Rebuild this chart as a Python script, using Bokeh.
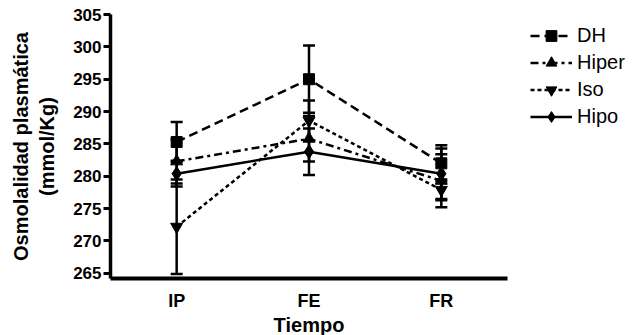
from bokeh.plotting import figure
from bokeh.models import (Range1d, FixedTicker, Whisker, TeeHead, ColumnDataSource,
                          Legend, LegendItem)
from bokeh.embed import file_html
from bokeh.resources import INLINE

# Time points and plasma osmolality (mean and SEM) per group
categories = ["IP", "FE", "FR"]
x_pos = [1, 2, 3]

dh = [285.3, 295.0, 282.0]
dh_sem = [3.1, 5.2, 2.8]

hiper = [282.3, 285.8, 279.3]
hiper_sem = [3.4, 3.5, 4.1]

iso = [272.2, 288.6, 277.9]
iso_sem = [7.3, 3.1, 1.6]

hipo = [280.4, 283.8, 280.4]
hipo_sem = [2.0, 3.6, 3.9]

y_ticks = [265, 270, 275, 280, 285, 290, 295, 300, 305]

FONT = "Liberation Sans"

p = figure(frame_width=397, frame_height=264, output_backend="svg",
           toolbar_location=None,
           x_range=Range1d(0.5, 3.5), y_range=Range1d(264.2, 305.0),
           min_border_left=110, min_border_right=132,
           min_border_top=14, min_border_bottom=57)

p.background_fill_color = "white"
p.border_fill_color = "white"
p.outline_line_color = None
p.xgrid.visible = False
p.ygrid.visible = False

# axes
p.yaxis.ticker = FixedTicker(ticks=y_ticks)
p.yaxis.axis_line_width = 3.5
p.yaxis.major_tick_line_width = 3
p.yaxis.major_tick_out = 7
p.yaxis.major_tick_in = 0
p.yaxis.minor_tick_line_color = None
p.yaxis.major_label_text_font = FONT
p.yaxis.major_label_text_font_style = "bold"
p.yaxis.major_label_text_font_size = "17px"
p.yaxis.major_label_text_color = "black"
p.yaxis.major_label_standoff = 2
p.yaxis.axis_label = "Osmolalidad plasmática\n(mmol/Kg)"
p.yaxis.axis_label_text_font = FONT
p.yaxis.axis_label_text_font_style = "bold"
p.yaxis.axis_label_text_font_size = "20px"
p.yaxis.axis_label_text_color = "black"
p.yaxis.axis_label_standoff = 12

p.xaxis.ticker = FixedTicker(ticks=x_pos)
p.xaxis.major_label_overrides = {x: c for x, c in zip(x_pos, categories)}
p.xaxis.axis_line_width = 4
p.xaxis.major_tick_line_color = None
p.xaxis.minor_tick_line_color = None
p.xaxis.major_label_text_font = FONT
p.xaxis.major_label_text_font_style = "bold"
p.xaxis.major_label_text_font_size = "18px"
p.xaxis.major_label_text_color = "black"
p.xaxis.major_label_standoff = 6
p.xaxis.axis_label = "Tiempo"
p.xaxis.axis_label_text_font = FONT
p.xaxis.axis_label_text_font_style = "bold"
p.xaxis.axis_label_text_font_size = "20px"
p.xaxis.axis_label_text_color = "black"
p.xaxis.axis_label_standoff = 0

series = [
    ("DH", dh, dh_sem, "square", 11, "9 5"),
    ("Hiper", hiper, hiper_sem, "triangle", 12, "8 4 3 4"),
    ("Iso", iso, iso_sem, "inverted_triangle", 12, "4 3"),
    ("Hipo", hipo, hipo_sem, "diamond", 14, "solid"),
]

items = []
for name, vals, sem, marker, size, dash in series:
    src = ColumnDataSource(dict(
        x=x_pos, y=vals,
        upper=[v + s for v, s in zip(vals, sem)],
        lower=[v - s for v, s in zip(vals, sem)],
    ))
    whisk = Whisker(source=src, base="x", upper="upper", lower="lower",
                    dimension="height", line_width=2.5, line_color="black",
                    upper_head=TeeHead(size=12, line_width=2.5, line_color="black"),
                    lower_head=TeeHead(size=12, line_width=2.5, line_color="black"))
    whisk.level = "underlay"
    p.add_layout(whisk)
    ln = p.line("x", "y", source=src, line_color="black", line_width=2.5,
                line_dash=dash)
    mk = p.scatter("x", "y", source=src, marker=marker, size=size,
                   fill_color="black", line_color="black")
    items.append(LegendItem(label=name, renderers=[ln, mk]))

# legend in the right-hand panel, placed in screen units from the panel's lower-left
legend = Legend(items=items, location=(23, 148),
                label_text_font=FONT, label_text_font_size="20px",
                label_text_color="black",
                glyph_width=42, glyph_height=27, label_height=27,
                label_standoff=5, spacing=0, padding=0, margin=0,
                border_line_color=None, background_fill_alpha=0)
p.add_layout(legend, "right")

open("out.html", "w").write(file_html(p, INLINE))
